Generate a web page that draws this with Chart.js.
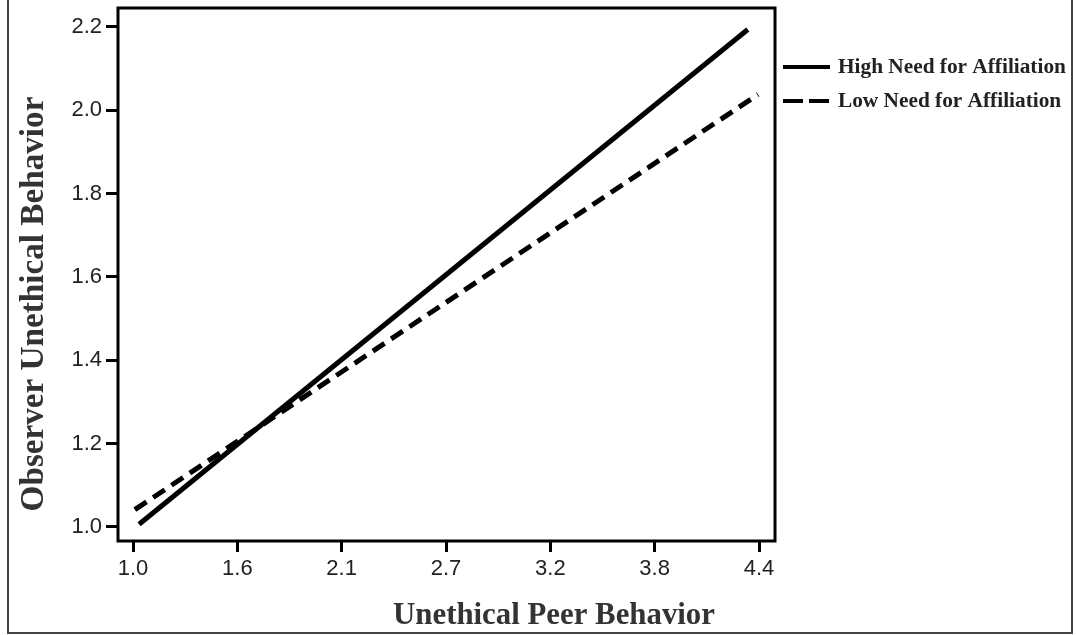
<!DOCTYPE html>
<html>
<head>
<meta charset="utf-8">
<script src="https://cdn.jsdelivr.net/npm/chart.js@4/dist/chart.umd.min.js"></script>
<style>
html,body{margin:0;padding:0;background:#fff;}
canvas{display:block;}
</style>
</head>
<body>
<canvas id="c" width="1076" height="635"></canvas>
<script>
// ---- data ----
const xTickLabels = ['1.0', '1.6', '2.1', '2.7', '3.2', '3.8', '4.4'];
const xTickValues = [1.0, 1.5667, 2.1333, 2.7, 3.2667, 3.8333, 4.4];
const yTickValues = [1.0, 1.2, 1.4, 1.6, 1.8, 2.0, 2.2];
const highLabel = 'High Need for Affiliation';
const lowLabel = 'Low Need for Affiliation';
const highX = [1.033, 4.339];
const highY = [1.006, 2.194];
const lowX = [1.01, 4.395];
const lowY = [1.041, 2.038];
const xTitle = 'Unethical Peer Behavior';
const yTitle = 'Observer Unethical Behavior';

// font fitting helper (sizes chosen so that text widths match the reference)
const mctx = document.createElement('canvas').getContext('2d');
function fitSize(text, family, weight, targetW) {
  mctx.font = weight + ' 100px ' + family;
  return 100 * targetW / mctx.measureText(text).width;
}
const titleFamily = '"Liberation Serif", serif';
const legendFamily = '"Liberation Serif", serif';
const yTitleSize = fitSize(yTitle, titleFamily, 'bold', 415);
const xTitleSize = fitSize(xTitle, titleFamily, 'bold', 322);
const legendSize = fitSize(highLabel, legendFamily, 'bold', 228);

const pts = (xs, ys) => xs.map((x, i) => ({x: x, y: ys[i]}));

const framePlugin = {
  id: 'frame',
  beforeDraw(chart) {
    const ctx = chart.ctx;
    ctx.save();
    ctx.fillStyle = '#fff';
    ctx.fillRect(0, 0, chart.width, chart.height);
    // outer frame
    ctx.strokeStyle = '#444';
    ctx.lineWidth = 2;
    ctx.beginPath();
    ctx.moveTo(8, -2);
    ctx.lineTo(8, 633);
    ctx.lineTo(1072, 633);
    ctx.lineTo(1072, -2);
    ctx.stroke();
    ctx.restore();
  },
  afterDatasetsDraw(chart) {
    const ctx = chart.ctx;
    const a = chart.chartArea;
    ctx.save();
    ctx.strokeStyle = '#000';
    ctx.lineWidth = 3;
    ctx.strokeRect(a.left, a.top, a.right - a.left, a.bottom - a.top);

    // axis titles
    ctx.fillStyle = '#333';
    ctx.font = 'bold ' + xTitleSize + 'px ' + titleFamily;
    ctx.textAlign = 'center';
    ctx.textBaseline = 'alphabetic';
    ctx.fillText(xTitle, 554, 624);
    ctx.translate(43, 304);
    ctx.rotate(-Math.PI / 2);
    ctx.font = 'bold ' + yTitleSize + 'px ' + titleFamily;
    ctx.fillText(yTitle, 0, 0);
    ctx.restore();

    // legend
    ctx.save();
    chart.data.datasets.forEach((ds, i) => {
      const y = 67 + i * 34;
      ctx.strokeStyle = ds.borderColor;
      ctx.lineWidth = 4;
      ctx.setLineDash(ds.borderDash && ds.borderDash.length ? [20, 6] : []);
      ctx.beginPath();
      ctx.moveTo(783, y);
      ctx.lineTo(830, y);
      ctx.stroke();
      ctx.setLineDash([]);
      ctx.fillStyle = '#222';
      ctx.font = 'bold ' + legendSize + 'px ' + legendFamily;
      ctx.textAlign = 'left';
      ctx.textBaseline = 'alphabetic';
      ctx.fillText(ds.label, 838, y + 6);
    });
    ctx.restore();
  }
};

new Chart(document.getElementById('c'), {
  type: 'line',
  data: {
    datasets: [
      {label: highLabel, data: pts(highX, highY), borderColor: '#000', borderWidth: 5,
       pointRadius: 0, borderDash: [], fill: false, tension: 0},
      {label: lowLabel, data: pts(lowX, lowY), borderColor: '#000', borderWidth: 5,
       pointRadius: 0, borderDash: [14, 8], fill: false, tension: 0}
    ]
  },
  options: {
    responsive: false,
    animation: false,
    devicePixelRatio: 1,
    layout: {padding: {left: 0, right: 301, top: 8, bottom: 0}},
    plugins: {legend: {display: false}, tooltip: {enabled: false}},
    scales: {
      x: {
        type: 'linear',
        min: 0.9185, max: 4.4869,
        afterBuildTicks(s) { s.ticks = xTickValues.map(v => ({value: v})); },
        afterFit(s) { s.height = 94; s.paddingLeft = 0; s.paddingRight = 0; },
        ticks: {
          callback: (v, i) => xTickLabels[i],
          font: {family: '"Liberation Sans", Arial, sans-serif', size: 22},
          color: '#222', padding: 4, maxRotation: 0, autoSkip: false
        },
        grid: {display: true, drawOnChartArea: false, drawTicks: true, tickLength: 11,
               lineWidth: 3, color: '#000'},
        border: {display: false}
      },
      y: {
        type: 'linear',
        min: 0.9658, max: 2.2456,
        afterBuildTicks(s) { s.ticks = yTickValues.map(v => ({value: v})); },
        afterFit(s) { s.width = 118; s.paddingTop = 0; s.paddingBottom = 0; },
        ticks: {
          callback: (v) => v.toFixed(1),
          font: {family: '"Liberation Sans", Arial, sans-serif', size: 22},
          color: '#222', padding: 4
        },
        grid: {display: true, drawOnChartArea: false, drawTicks: true, tickLength: 12,
               lineWidth: 3, color: '#000'},
        border: {display: false}
      }
    }
  },
  plugins: [framePlugin]
});
</script>
</body>
</html>
